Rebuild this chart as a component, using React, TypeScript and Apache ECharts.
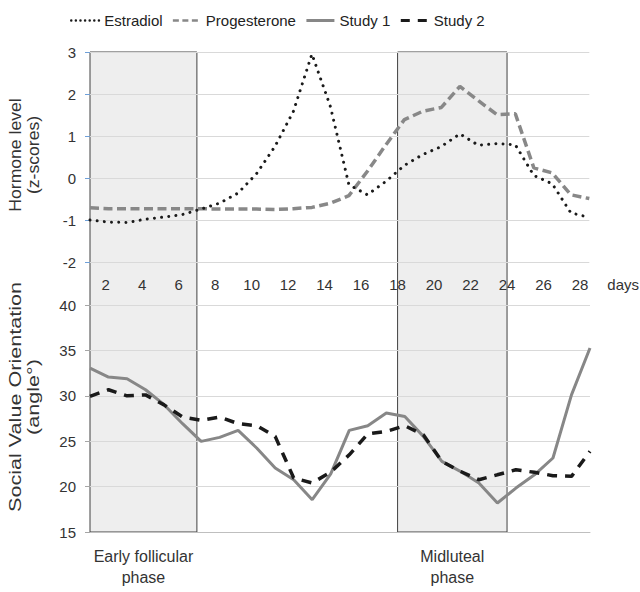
import React, { useEffect, useRef } from "react";
import * as echarts from "echarts";

const days = ["1","2","3","4","5","6","7","8","9","10","11","12","13","14","15","16","17","18","19","20","21","22","23","24","25","26","27","28"];
const dayTicks = [2, 4, 6, 8, 10, 12, 14, 16, 18, 20, 22, 24, 26, 28];
const dayAxisMin = 1.14;
const dayAxisMax = 28.51;

const estradiol = [-1.0, -1.05, -1.06, -0.98, -0.93, -0.87, -0.74, -0.6, -0.36, 0.1, 0.75, 1.59, 2.95, 1.7, -0.16, -0.4, -0.08, 0.3, 0.56, 0.75, 1.05, 0.78, 0.82, 0.79, 0.06, -0.14, -0.83, -0.94];
const progesterone = [-0.71, -0.73, -0.73, -0.73, -0.73, -0.73, -0.73, -0.74, -0.74, -0.74, -0.75, -0.73, -0.7, -0.6, -0.42, 0.16, 0.79, 1.39, 1.59, 1.68, 2.18, 1.84, 1.51, 1.53, 0.24, 0.12, -0.4, -0.49];
const study1 = [33.05, 32.06, 31.88, 30.67, 29.02, 26.93, 24.98, 25.42, 26.19, 24.25, 22.05, 20.76, 18.56, 21.4, 26.19, 26.7, 28.1, 27.73, 25.53, 22.78, 21.68, 20.4, 18.19, 19.84, 21.3, 23.15, 30.1, 35.26];
const study2 = [29.94, 30.67, 30.0, 30.1, 29.0, 27.66, 27.3, 27.66, 26.93, 26.7, 25.53, 20.94, 20.4, 21.6, 23.5, 25.8, 26.08, 26.7, 25.7, 22.78, 21.68, 20.76, 21.3, 21.86, 21.57, 21.2, 21.13, 23.88];

const hormoneMin = -2;
const hormoneMax = 3;
const hormoneInterval = 1;
const svoMin = 15;
const svoMax = 40;
const svoInterval = 5;

const phases = [
  { label: "Early follicular\nphase", start: dayAxisMin, end: 7 },
  { label: "Midluteal\nphase", start: 18, end: 24 },
];

const FONT = "'Liberation Sans', Arial, sans-serif";
const TEXT = "#333333";
const HIDDEN_SYMBOL = { color: "rgba(0,0,0,0)", borderColor: "rgba(0,0,0,0)", borderWidth: 0 };

export default function App() {
  const ref = useRef<HTMLDivElement>(null);
  useEffect(() => {
    const chart = echarts.init(ref.current!, null, { renderer: "svg" });
    const option: any = {
      animation: false,
      backgroundColor: "#ffffff",
      textStyle: { fontFamily: FONT },
      legend: {
        left: 70,
        top: 13,
        itemWidth: 28,
        itemHeight: 14,
        itemGap: 9,
        padding: 0,
        textStyle: { fontSize: 15, color: "#222222", fontFamily: FONT },
        data: [
          { name: "Estradiol", itemStyle: HIDDEN_SYMBOL, lineStyle: { type: [0.01, 4.6], width: 2.5, cap: "round" } },
          { name: "Progesterone", itemStyle: HIDDEN_SYMBOL, lineStyle: { type: [6, 3.5], width: 2.5 } },
          { name: "Study 1", itemStyle: HIDDEN_SYMBOL, lineStyle: { width: 3 } },
          { name: "Study 2", itemStyle: HIDDEN_SYMBOL, lineStyle: { type: [9, 8], width: 3 } },
        ],
      },
      grid: [
        { left: 90, right: 50, top: 52, height: 210 },
        { left: 90, right: 50, top: 305, height: 227 },
      ],
      xAxis: [
        { gridIndex: 0, type: "category", data: days, boundaryGap: false, show: false },
        {
          gridIndex: 0,
          type: "value",
          min: dayAxisMin,
          max: dayAxisMax,
          position: "bottom",
          offset: 22,
          axisLine: { show: false },
          axisTick: { show: false },
          splitLine: { show: false },
          axisLabel: {
            customValues: dayTicks,
            margin: 0,
            verticalAlign: "middle",
            fontSize: 15,
            color: TEXT,
            fontFamily: FONT,
          },
          name: "days",
          nameLocation: "end",
          nameGap: 18,
          nameTextStyle: { fontSize: 15, color: TEXT, fontFamily: FONT, verticalAlign: "middle" },
        },
        {
          gridIndex: 1,
          type: "category",
          data: days,
          boundaryGap: false,
          axisLine: { show: true, lineStyle: { color: "#bfbfbf", width: 1 } },
          axisTick: { show: false },
          axisLabel: { show: false },
        },
      ],
      yAxis: [
        {
          gridIndex: 0,
          type: "value",
          min: hormoneMin,
          max: hormoneMax,
          interval: hormoneInterval,
          axisLine: { show: false },
          axisTick: { show: true, length: 5, lineStyle: { color: "#6fa0d8" } },
          splitLine: { show: true, lineStyle: { color: "#d9d9d9", width: 1 } },
          axisLabel: { fontSize: 15, color: TEXT, margin: 14, fontFamily: FONT },
        },
        {
          gridIndex: 1,
          type: "value",
          min: svoMin,
          max: svoMax,
          interval: svoInterval,
          axisLine: { show: false },
          axisTick: { show: true, length: 5, lineStyle: { color: "#a6a6a6" } },
          splitLine: { show: true, lineStyle: { color: "#d9d9d9", width: 1 } },
          axisLabel: { fontSize: 15, color: TEXT, margin: 14, fontFamily: FONT },
        },
      ],
      series: [
        {
          name: "Estradiol",
          type: "line",
          xAxisIndex: 0,
          yAxisIndex: 0,
          data: estradiol,
          symbol: "none",
          itemStyle: { color: "#1a1a1a" },
          lineStyle: { color: "#1a1a1a", width: 3, type: [0.01, 7.2], cap: "round" },
          z: 3,
        },
        {
          name: "Progesterone",
          type: "line",
          xAxisIndex: 0,
          yAxisIndex: 0,
          data: progesterone,
          symbol: "none",
          itemStyle: { color: "#888888" },
          lineStyle: { color: "#888888", width: 3.5, type: [9, 4.5] },
          z: 2,
        },
        {
          name: "Study 1",
          type: "line",
          xAxisIndex: 2,
          yAxisIndex: 1,
          data: study1,
          symbol: "none",
          itemStyle: { color: "#878787" },
          lineStyle: { color: "#878787", width: 3 },
          z: 2,
        },
        {
          name: "Study 2",
          type: "line",
          xAxisIndex: 2,
          yAxisIndex: 1,
          data: study2,
          symbol: "none",
          itemStyle: { color: "#1a1a1a" },
          lineStyle: { color: "#1a1a1a", width: 3.5, type: [10, 8] },
          z: 3,
        },
      ],
    };
    chart.setOption(option);

    const yTop = chart.convertToPixel({ yAxisIndex: 0 }, hormoneMax) as number;
    const yBottom = chart.convertToPixel({ yAxisIndex: 1 }, svoMin) as number;
    const graphics: any[] = [];
    phases.forEach((p) => {
      const x1 = chart.convertToPixel({ xAxisIndex: 1 }, p.start) as number;
      const x2 = chart.convertToPixel({ xAxisIndex: 1 }, p.end) as number;
      graphics.push({
        type: "rect",
        z: -1,
        shape: { x: x1, y: yTop, width: x2 - x1, height: yBottom - yTop },
        style: { fill: "#eeeeee", stroke: "#404040", lineWidth: 1 },
        silent: true,
      });
      graphics.push({
        type: "text",
        x: (x1 + x2) / 2,
        y: yBottom + 14,
        style: {
          text: p.label,
          fontSize: 16,
          lineHeight: 21,
          fill: TEXT,
          fontFamily: FONT,
          textAlign: "center",
          textVerticalAlign: "top",
        },
      });
    });
    graphics.push({
      type: "text",
      x: 25,
      y: 155,
      rotation: Math.PI / 2,
      scaleX: 1.1,
      style: {
        text: "Hormone level\n(z-scores)",
        fontSize: 16,
        lineHeight: 18,
        fill: TEXT,
        fontFamily: FONT,
        textAlign: "center",
        textVerticalAlign: "middle",
      },
    });
    graphics.push({
      type: "text",
      x: 25,
      y: 397,
      rotation: Math.PI / 2,
      scaleX: 1.35,
      style: {
        text: "Social Value Orientation\n(angle°)",
        fontSize: 16,
        lineHeight: 18,
        fill: TEXT,
        fontFamily: FONT,
        textAlign: "center",
        textVerticalAlign: "middle",
      },
    });
    chart.setOption({ graphic: graphics });
    return () => chart.dispose();
  }, []);
  return (
    <div
      ref={ref}
      style={{ position: "absolute", left: 0, top: 0, width: 640, height: 592 }}
    />
  );
}
